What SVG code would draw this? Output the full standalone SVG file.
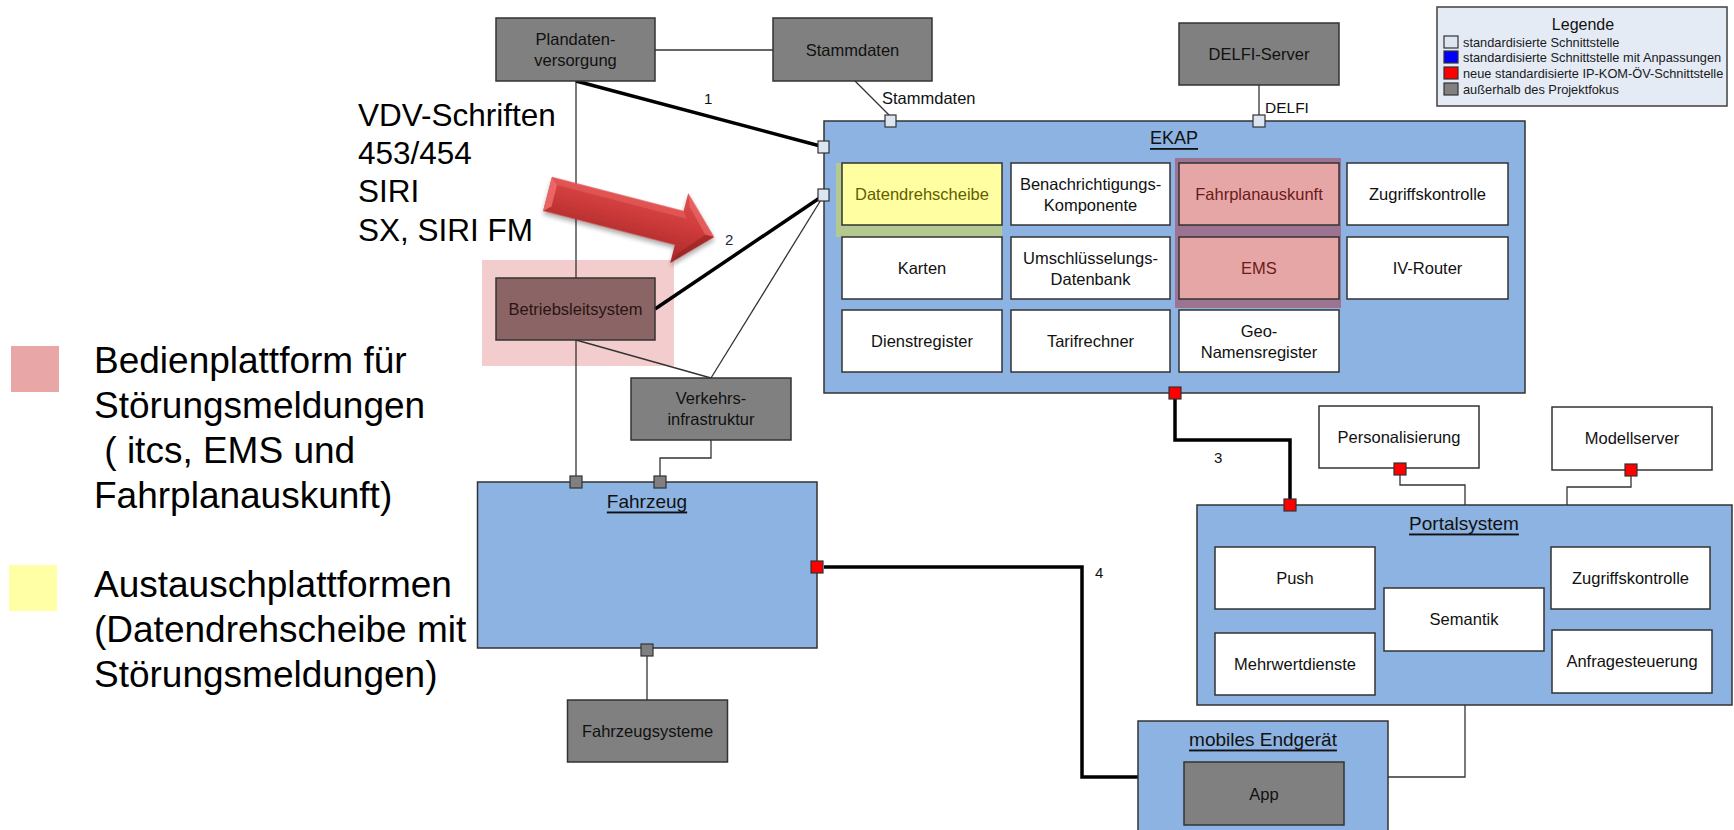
<svg xmlns="http://www.w3.org/2000/svg" width="1734" height="830" viewBox="0 0 1734 830">
<defs>
<style>
.box{stroke:#333;stroke-width:1.5}
.gray{fill:#808080}
.white{fill:#fff}
.blue{fill:#8DB3E2}
.t{font-family:"Liberation Sans",Arial,sans-serif;font-size:16.5px;fill:#111;text-anchor:middle;dominant-baseline:central}
.title{font-size:19px;text-decoration:underline}
.lbl{font-family:"Liberation Sans",Arial,sans-serif;font-size:15px;fill:#111;dominant-baseline:central}
.big{font-family:"Liberation Sans",Arial,sans-serif;font-size:37px;fill:#000}
.mid{font-family:"Liberation Sans",Arial,sans-serif;font-size:31.5px;fill:#000}
.leg{font-family:"Liberation Sans",Arial,sans-serif;font-size:12.8px;fill:#1a1a1a;dominant-baseline:central}
.thin{stroke:#333;stroke-width:1.3;fill:none}
.thick{stroke:#000;stroke-width:3.5;fill:none}
.pl{fill:#DCE6F2;stroke:#333;stroke-width:1.2}
.pr{fill:#f00;stroke:#333;stroke-width:1.2}
.pg{fill:#808080;stroke:#333;stroke-width:1.2}
</style>
<linearGradient id="arrowGrad" x1="0" y1="0" x2="0" y2="1">
<stop offset="0" stop-color="#E24E4E"/>
<stop offset="0.5" stop-color="#CC3A3A"/>
<stop offset="1" stop-color="#A62828"/>
</linearGradient>
<filter id="shadow" x="-20%" y="-30%" width="140%" height="160%">
<feGaussianBlur in="SourceAlpha" stdDeviation="2.5"/>
<feOffset dx="1" dy="3" result="b"/>
<feComponentTransfer><feFuncA type="linear" slope="0.35"/></feComponentTransfer>
<feMerge><feMergeNode/><feMergeNode in="SourceGraphic"/></feMerge>
</filter>
</defs>
<rect width="1734" height="830" fill="#fff"/>

<g id="side-text">
<text class="mid" x="358" y="126">VDV-Schriften</text>
<text class="mid" x="358" y="164">453/454</text>
<text class="mid" x="358" y="202">SIRI</text>
<text class="mid" x="358" y="241">SX, SIRI FM</text>
<rect x="11" y="346" width="48" height="46" fill="#E8A6A6"/>
<text class="big" x="94" y="373">Bedienplattform für</text>
<text class="big" x="94" y="418">Störungsmeldungen</text>
<text class="big" x="94" y="463" xml:space="preserve"> ( itcs, EMS und</text>
<text class="big" x="94" y="508">Fahrplanauskunft)</text>
<rect x="9" y="565" width="48" height="46" fill="#FFFFA5"/>
<text class="big" x="94" y="597">Austauschplattformen</text>
<text class="big" x="94" y="642">(Datendrehscheibe mit</text>
<text class="big" x="94" y="687">Störungsmeldungen)</text>
</g>

<rect x="482" y="260" width="192" height="106" fill="#F3CDCD"/>

<g id="connectors">
<line class="thin" x1="655" y1="50" x2="773" y2="50"/>
<line class="thin" x1="576" y1="81" x2="576" y2="278"/>
<line class="thin" x1="576" y1="340" x2="576" y2="477"/>
<line class="thin" x1="576" y1="340" x2="711" y2="378"/>
<line class="thin" x1="711" y1="378" x2="824" y2="195"/>
<polyline class="thin" points="711,440 711,458 660,458 660,477"/>
<line class="thin" x1="855" y1="81" x2="890" y2="116"/>
<line class="thin" x1="1259" y1="85" x2="1259" y2="116"/>
<polyline class="thin" points="1400,474 1400,485 1465,485 1465,505"/>
<polyline class="thin" points="1631,476 1631,487 1567,487 1567,505"/>
<polyline class="thin" points="1465,705 1465,777 1388,777"/>
<line class="thin" x1="647" y1="656" x2="647" y2="700"/>
<line class="thick" x1="576" y1="81" x2="824" y2="147"/>
<line class="thick" x1="655" y1="309" x2="824" y2="195"/>
<polyline class="thick" points="1175,399 1175,440 1290,440 1290,499"/>
<polyline class="thick" points="824,567 1082,567 1082,777 1138,777"/>
<text class="lbl" x="704" y="98">1</text>
<text class="lbl" x="725" y="239" style="fill:#1a2a4a">2</text>
<text class="lbl" x="1214" y="457">3</text>
<text class="lbl" x="1095" y="572">4</text>
<text class="lbl" x="882" y="98" style="font-size:16.5px">Stammdaten</text>
<text class="lbl" x="1265" y="107" style="font-size:15.5px">DELFI</text>
</g>

<g id="plandaten">
<rect class="box gray" x="496" y="18" width="159" height="63"/>
<text class="t" x="575.5" y="39">Plandaten-</text>
<text class="t" x="575.5" y="60">versorgung</text>
</g>
<g id="stammdaten">
<rect class="box gray" x="773" y="18" width="159" height="63"/>
<text class="t" x="852.5" y="50">Stammdaten</text>
</g>
<g id="delfi-server">
<rect class="box gray" x="1179" y="23" width="160" height="62"/>
<text class="t" x="1259" y="54">DELFI-Server</text>
</g>
<g id="betriebsleitsystem">
<rect class="box" x="496" y="278" width="159" height="62" fill="#8B6565"/>
<text class="t" x="575.5" y="309" style="fill:#2a1414">Betriebsleitsystem</text>
</g>
<g id="verkehrsinfrastruktur">
<rect class="box gray" x="631" y="378" width="160" height="62"/>
<text class="t" x="711" y="398">Verkehrs-</text>
<text class="t" x="711" y="419">infrastruktur</text>
</g>

<g id="legende">
<rect x="1437" y="7" width="290" height="99" fill="#E4EBF5" stroke="#404040" stroke-width="1.5"/>
<text class="t" x="1583" y="24" style="font-size:16px">Legende</text>
<rect class="pl" x="1444" y="36" width="14" height="12"/>
<text class="leg" x="1463" y="42">standardisierte Schnittstelle</text>
<rect x="1444" y="51" width="14" height="12" fill="#0000FF" stroke="#333" stroke-width="1.2"/>
<text class="leg" x="1463" y="57">standardisierte Schnittstelle mit Anpassungen</text>
<rect class="pr" x="1444" y="67" width="14" height="12"/>
<text class="leg" x="1463" y="73">neue standardisierte IP-KOM-ÖV-Schnittstelle</text>
<rect class="pg" x="1444" y="83" width="14" height="12"/>
<text class="leg" x="1463" y="89">außerhalb des Projektfokus</text>
</g>

<g id="ekap">
<rect class="box blue" x="824" y="121" width="701" height="272"/>
<text class="t title" x="1174" y="138" style="font-size:18px">EKAP</text>
<rect x="836" y="163" width="166" height="74" fill="#B4C98F"/>
<rect x="1175" y="158" width="166" height="150" fill="#9C7391"/>
<g id="datendrehscheibe"><rect class="box" x="842" y="163" width="160" height="62" fill="#FFFFA1" stroke="#4a4a1a"/><text class="t" x="922" y="194" style="fill:#5E5E00">Datendrehscheibe</text></g>
<g id="benachrichtigung"><rect class="box white" x="1011" y="163" width="159" height="62"/><text class="t" x="1090.5" y="184">Benachrichtigungs-</text><text class="t" x="1090.5" y="205">Komponente</text></g>
<g id="fahrplanauskunft"><rect class="box" x="1179" y="163" width="160" height="62" fill="#E6A6A6" stroke="#5a2a2a"/><text class="t" x="1259" y="194" style="fill:#6B1A1A">Fahrplanauskunft</text></g>
<g id="zugriffskontrolle-ekap"><rect class="box white" x="1347" y="163" width="161" height="62"/><text class="t" x="1427.5" y="194">Zugriffskontrolle</text></g>
<g id="karten"><rect class="box white" x="842" y="237" width="160" height="62"/><text class="t" x="922" y="268">Karten</text></g>
<g id="umschluesselung"><rect class="box white" x="1011" y="237" width="159" height="62"/><text class="t" x="1090.5" y="258">Umschlüsselungs-</text><text class="t" x="1090.5" y="279">Datenbank</text></g>
<g id="ems"><rect class="box" x="1179" y="237" width="160" height="62" fill="#E6A6A6" stroke="#5a2a2a"/><text class="t" x="1259" y="268" style="fill:#6B1A1A">EMS</text></g>
<g id="iv-router"><rect class="box white" x="1347" y="237" width="161" height="62"/><text class="t" x="1427.5" y="268">IV-Router</text></g>
<g id="dienstregister"><rect class="box white" x="842" y="310" width="160" height="62"/><text class="t" x="922" y="341">Dienstregister</text></g>
<g id="tarifrechner"><rect class="box white" x="1011" y="310" width="159" height="62"/><text class="t" x="1090.5" y="341">Tarifrechner</text></g>
<g id="geo"><rect class="box white" x="1179" y="310" width="160" height="62"/><text class="t" x="1259" y="331">Geo-</text><text class="t" x="1259" y="352">Namensregister</text></g>
</g>

<g id="fahrzeug">
<rect class="box blue" x="477.5" y="482" width="339.5" height="166"/>
<text class="t title" x="647" y="501">Fahrzeug</text>
</g>
<g id="fahrzeugsysteme">
<rect class="box gray" x="567.5" y="700" width="160" height="62"/>
<text class="t" x="647.5" y="731">Fahrzeugsysteme</text>
</g>

<g id="personalisierung">
<rect class="box white" x="1319" y="406" width="160" height="62"/>
<text class="t" x="1399" y="437">Personalisierung</text>
</g>
<g id="modellserver">
<rect class="box white" x="1552" y="407" width="160" height="63"/>
<text class="t" x="1632" y="438">Modellserver</text>
</g>

<g id="portalsystem">
<rect class="box blue" x="1197" y="505" width="535" height="200"/>
<text class="t title" x="1464" y="523">Portalsystem</text>
<g id="push"><rect class="box white" x="1215" y="547" width="160" height="62"/><text class="t" x="1295" y="578">Push</text></g>
<g id="mehrwertdienste"><rect class="box white" x="1215" y="633" width="160" height="62"/><text class="t" x="1295" y="664">Mehrwertdienste</text></g>
<g id="semantik"><rect class="box white" x="1384" y="588" width="160" height="63"/><text class="t" x="1464" y="619">Semantik</text></g>
<g id="zugriffskontrolle-portal"><rect class="box white" x="1551" y="547" width="159" height="62"/><text class="t" x="1630.5" y="578">Zugriffskontrolle</text></g>
<g id="anfragesteuerung"><rect class="box white" x="1552" y="630" width="160" height="63"/><text class="t" x="1632" y="661">Anfragesteuerung</text></g>
</g>

<g id="mobiles-endgeraet">
<rect class="box blue" x="1138" y="721" width="250" height="120"/>
<text class="t title" x="1263" y="739">mobiles Endgerät</text>
<g id="app"><rect class="box gray" x="1184" y="762" width="160" height="63"/><text class="t" x="1264" y="794">App</text></g>
</g>

<g id="ports">
<rect class="pl" x="818" y="141" width="11" height="12"/>
<rect class="pl" x="818" y="189" width="11" height="12"/>
<rect class="pl" x="885" y="115" width="11" height="12"/>
<rect class="pl" x="1253" y="115" width="12" height="12"/>
<rect class="pr" x="1169" y="387" width="12" height="12"/>
<rect class="pr" x="1284" y="499" width="12" height="12"/>
<rect class="pr" x="1394" y="463" width="12" height="12"/>
<rect class="pr" x="1625" y="464" width="12" height="12"/>
<rect class="pg" x="570" y="476" width="12" height="12"/>
<rect class="pg" x="654" y="476" width="12" height="12"/>
<rect class="pg" x="641" y="644" width="12" height="12"/>
<rect class="pr" x="811" y="561" width="12" height="12"/>
</g>

<g id="red-arrow" transform="translate(547.5,194) rotate(14.5)">
<g filter="url(#shadow)">
<polygon points="0,-17.6 136,-17.6 136,-36 172,0 136,36 136,17.6 0,17.6" fill="url(#arrowGrad)"/>
</g>
<polygon points="0,-17.6 7,-11 7,11 0,17.6" fill="#F07070" opacity="0.8"/>
<polygon points="0,-17.6 136,-17.6 141,-11 7,-11" fill="#E86060" opacity="0.6"/>
<polygon points="136,-36 172,0 163,0 141,-23" fill="#EE7070" opacity="0.6"/>
<polygon points="136,36 172,0 163,0 141,25" fill="#8E1C1C" opacity="0.5"/>
</g>
</svg>
